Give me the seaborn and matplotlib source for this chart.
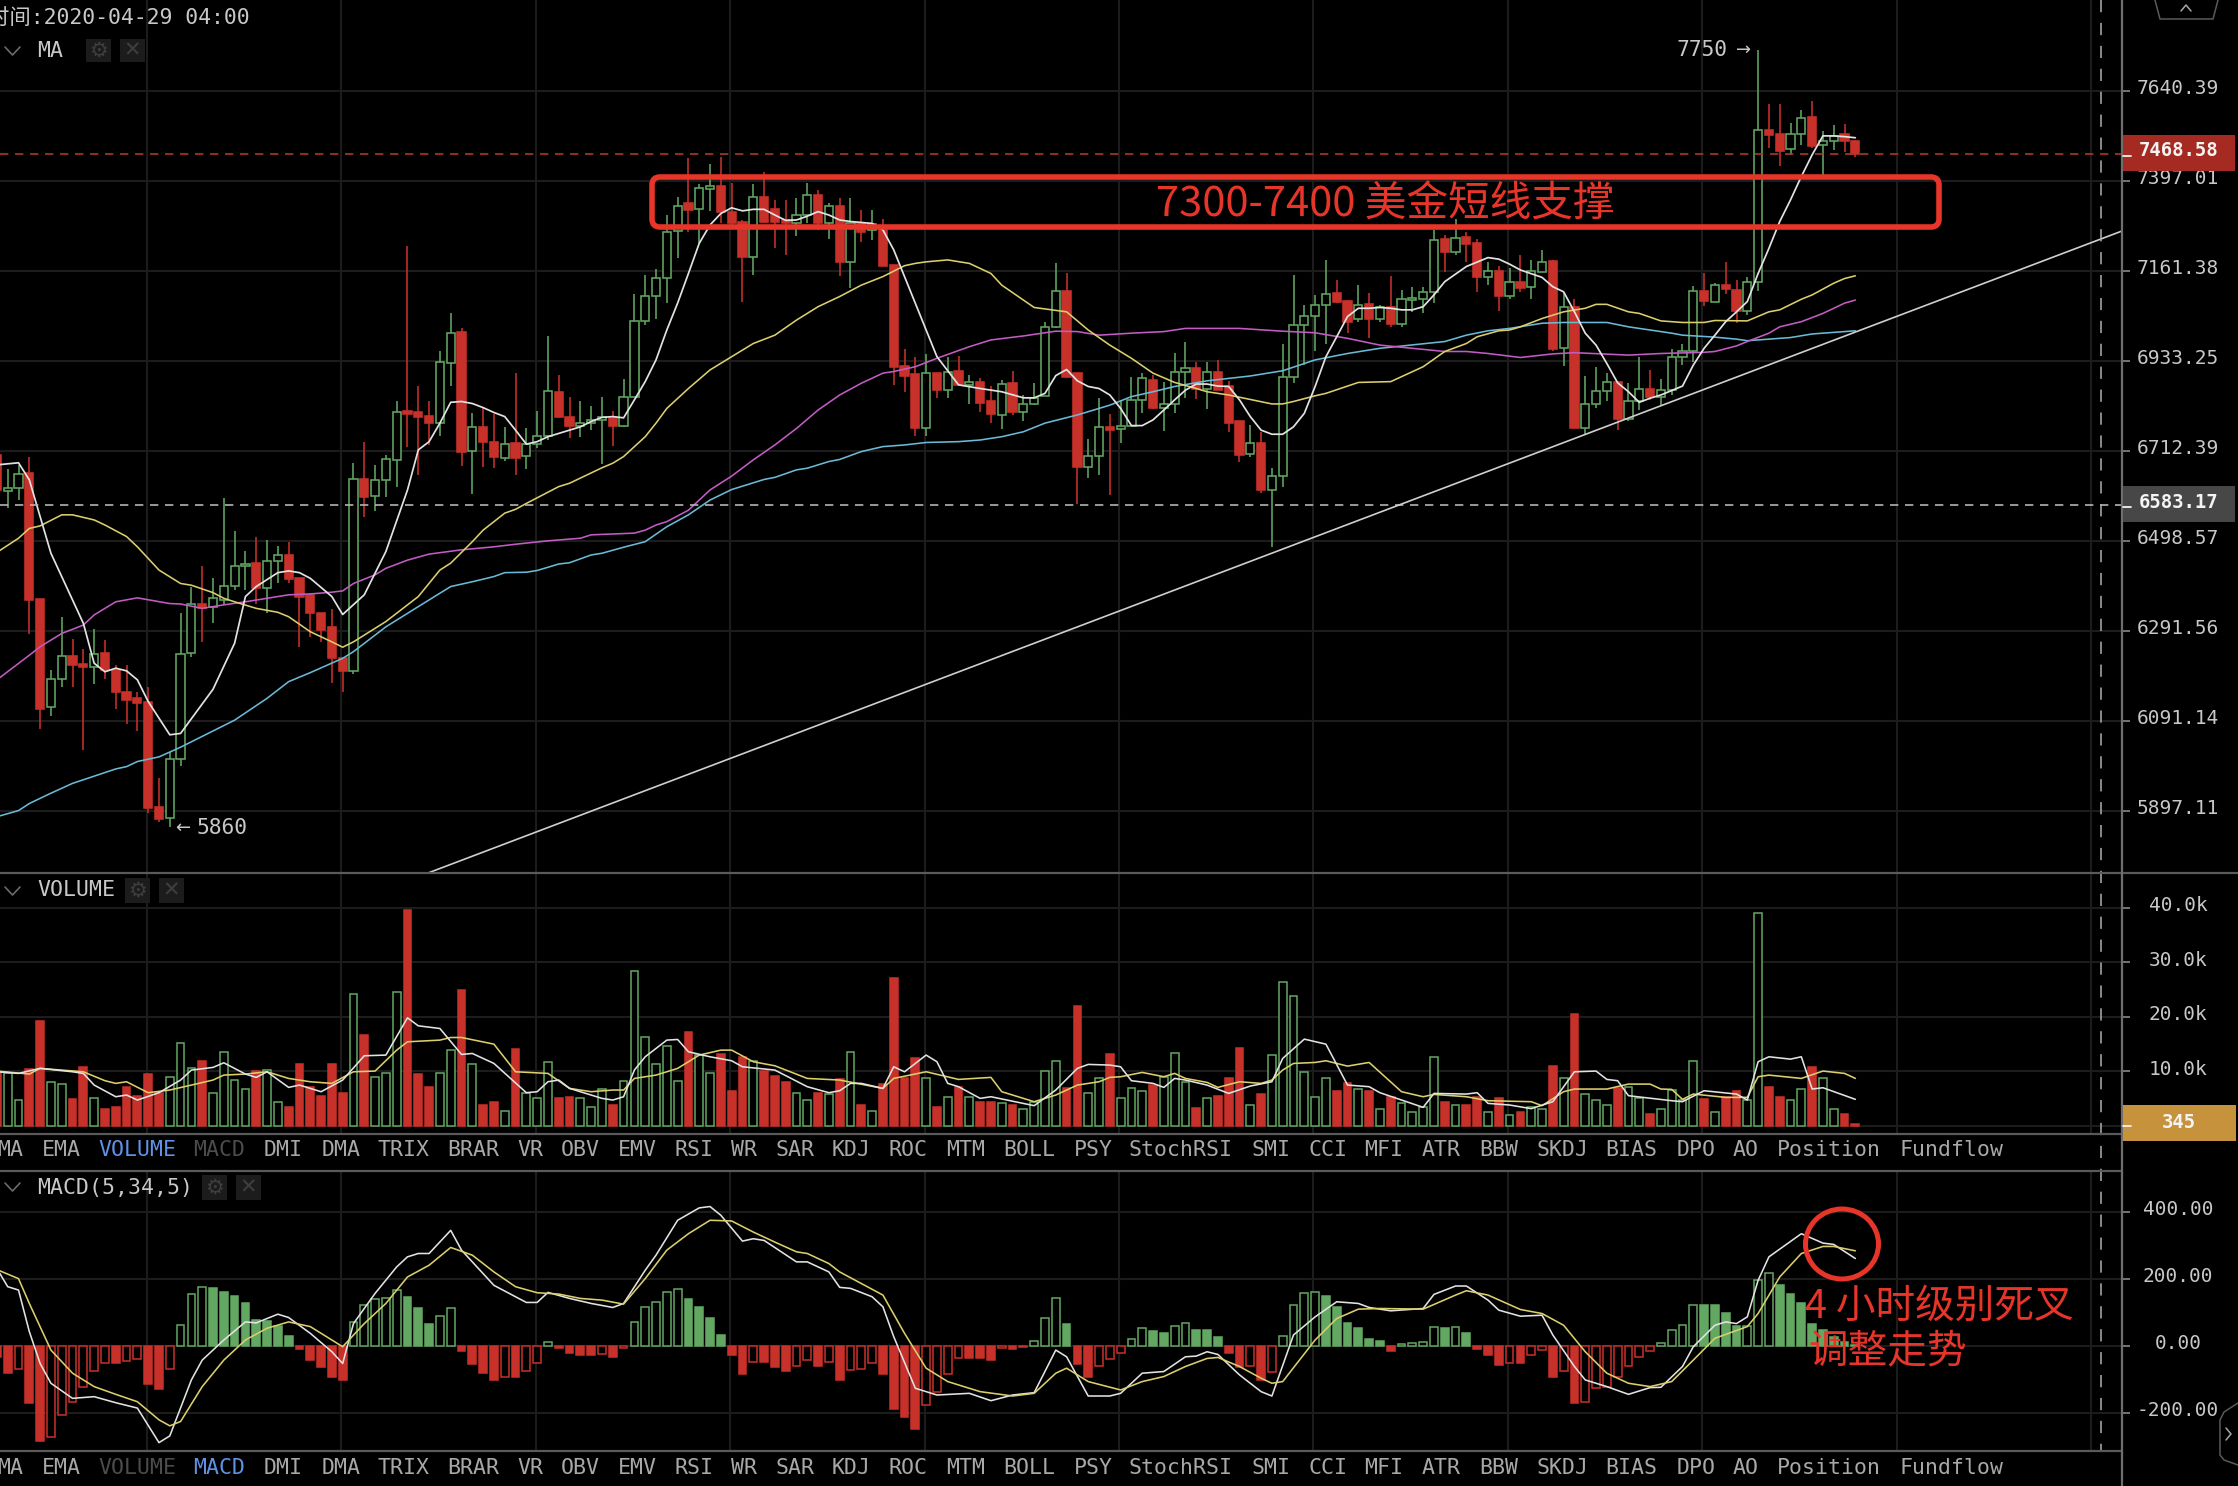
import math
import numpy as np
import seaborn as sns
import matplotlib
matplotlib.use('Agg')
import matplotlib.pyplot as plt
from matplotlib.patches import FancyBboxPatch, Ellipse, Rectangle

opens=[6703,6617,6623,6659,6364,6121,6183,6236,6217,6211,6241,6205,6156,6141,6132,5906,5882,6009,6243,6354,6347,6362,6395,6441,6447,6390,6453,6467,6412,6374,6333,6301,6230,
6202,6644,6605,6643,6691,6810,6806,6797,6781,6929,7007,6712,6770,6735,6695,6731,6700,6729,6749,6857,6796,6773,6780,6788,6792,6773,6845,7034,7097,7144,7264,7338,7322,
7377,7385,7316,7290,7198,7355,7322,7294,7287,7307,7360,7287,7332,7185,7285,7268,7268,7177,6921,6900,6769,6903,6861,6908,6874,6882,6833,6800,6878,6808,6827,6847,7019,
7111,6904,6673,6700,6771,6765,6773,6837,6886,6816,6827,6907,6917,6865,6907,6870,6784,6705,6731,6620,6652,6894,7024,7046,7074,7104,7085,7038,7076,7038,7070,7026,7087,
7089,7107,7243,7211,7250,7233,7147,7162,7096,7134,7119,7160,7187,6965,7070,6769,6827,6860,6880,6790,6833,6863,6843,6861,6944,6957,7111,7083,7125,7113,7060,7134,7534,
7523,7483,7522,7568,7493,7504,7523,7505]
highs=[6715,6668,6679,6699,6364,6205,6323,6273,6250,6295,6271,6215,6214,6154,6167,5967,6024,6332,6393,6440,6412,6601,6522,6476,6509,6502,6488,6497,6412,6379,6333,6341,6230,
6683,6733,6679,6703,6833,7226,6870,6833,6957,7053,7015,6804,6816,6802,6770,6903,6767,6810,6996,6898,6843,6833,6823,6843,6810,6889,7102,7151,7166,7307,7354,7458,7388,
7442,7462,7391,7294,7389,7422,7347,7347,7351,7391,7373,7340,7351,7351,7320,7320,7296,7177,6962,6944,6951,6904,6944,6946,6898,6890,6870,6886,6909,6849,6878,7032,7181,
7155,6904,6741,6841,6802,6837,6894,6903,6898,6882,6952,6982,6932,6932,6936,6884,6784,6775,6759,6671,6977,7151,7074,7100,7191,7138,7087,7125,7104,7074,7149,7113,7121,
7119,7268,7255,7296,7263,7243,7185,7173,7168,7203,7190,7216,7190,7104,7089,6896,6919,6903,6884,6879,6942,6911,6888,6962,6977,7123,7157,7131,7185,7137,7147,7754,7604,
7604,7552,7588,7613,7532,7548,7550,7507]
lows=[6607,6575,6595,6284,6073,6102,6167,6165,6028,6173,6183,6117,6084,6070,5892,5873,5863,5993,6234,6267,6310,6351,6384,6384,6354,6333,6402,6400,6256,6279,6267,6174,6154,
6196,6556,6570,6603,6625,6723,6655,6727,6749,6872,6676,6609,6673,6671,6689,6655,6668,6719,6739,6794,6745,6747,6763,6681,6724,6770,6843,7024,7040,7079,7194,7263,7233,
7318,7285,7275,7083,7151,7285,7220,7203,7252,7285,7268,7243,7149,7117,7237,7242,7173,6874,6857,6749,6749,6841,6841,6871,6828,6808,6781,6765,6800,6784,6824,6847,7015,
6890,6586,6647,6655,6607,6731,6773,6804,6814,6762,6804,6841,6838,6814,6861,6759,6687,6699,6611,6484,6625,6879,6923,6957,6977,7079,7003,7032,6990,7032,7019,7019,7057,
7053,7079,7160,7203,7185,7108,7125,7060,7089,7108,7089,7160,6959,6921,6769,6754,6816,6833,6763,6784,6812,6837,6823,6849,6923,6932,7072,7083,7102,7028,7049,7111,7484,
7437,7467,7493,7484,7413,7480,7475,7462]
closes=[6619,6623,6657,6361,6117,6183,6236,6214,6210,6240,6205,6154,6137,6130,5904,5881,6009,6240,6353,6343,6366,6395,6441,6446,6389,6453,6466,6410,6370,6332,6294,6230,6202,
6644,6603,6643,6692,6806,6802,6794,6781,6930,7003,6711,6770,6733,6699,6729,6695,6729,6749,6859,6794,6773,6780,6788,6796,6774,6845,7034,7097,7144,7263,7331,7320,7379,
7384,7316,7287,7198,7355,7290,7290,7285,7307,7360,7285,7331,7184,7287,7263,7283,7174,6919,6896,6769,6903,6861,6907,6874,6882,6830,6802,6876,6808,6827,6842,7019,7111,
6894,6673,6700,6770,6763,6773,6837,6890,6816,6828,6907,6917,6865,6907,6861,6781,6703,6731,6620,6652,6894,7024,7046,7074,7102,7083,7030,7074,7038,7070,7026,7089,7093,
7107,7242,7211,7246,7230,7147,7161,7096,7134,7117,7162,7185,6962,7070,6769,6827,6860,6880,6790,6833,6863,6843,6861,6944,6957,7111,7085,7125,7114,7060,7134,7534,7520,
7478,7523,7567,7491,7504,7518,7505,7469]

ma_white_x=[0,2,3,5,8,9,10,11,12,13,14,16,17,20,22,23,24,26,27,28,29,31,32,34,36,38,39,40,41,42,43,44,45,46,47,48,49,50,51,52,53,54,55,56,57,58,59,60,61,62,63,64,65,66,67,68,69,70,71,72,73,74,75,76,77,78,79,81,82,83,85,87,89,91,93,95,96,97,98,99,100,101,102,103,104,105,106,107,108,109,110,111,112,113,114,115,116,117,118,119,120,121,122,123,124,125,126,127,128,129,130,131,132,133,134,136,138,139,140,141,143,144,145,146,147,148,149,150,151,152,153,154,156,157,158,159,160,161,162,163,164,165,166,167,168,169,170,171,172]
ma_white_y=[6679,6684,6643,6470,6309,6219,6200,6208,6202,6182,6134,6061,6064,6161,6264,6370,6393,6425,6429,6425,6412,6370,6329,6374,6474,6619,6715,6735,6780,6831,6833,6828,6818,6806,6796,6763,6729,6735,6747,6755,6763,6771,6784,6794,6796,6793,6837,6882,6936,7011,7079,7155,7233,7281,7311,7326,7318,7322,7322,7307,7293,7294,7304,7316,7307,7294,7290,7285,7268,7216,7079,6944,6874,6865,6857,6842,6842,6853,6897,6912,6884,6870,6865,6849,6816,6774,6774,6788,6812,6837,6861,6876,6876,6871,6870,6837,6796,6763,6753,6753,6771,6804,6870,6944,6994,7045,7066,7066,7068,7066,7062,7062,7070,7100,7134,7173,7196,7192,7179,7164,7145,7121,7108,7057,7003,6973,6927,6879,6857,6831,6841,6849,6871,6923,6965,6998,7032,7057,7083,7155,7220,7290,7347,7409,7467,7518,7518,7516,7513]
ma_yellow_x=[0,2,3,4,6,7,9,10,12,13,15,17,18,20,21,22,24,26,27,29,31,32,33,36,39,41,42,44,45,47,48,49,52,53,56,57,58,60,61,62,64,66,68,70,72,74,76,78,80,82,84,85,86,88,90,92,93,96,99,101,103,105,107,109,111,112,114,116,118,119,120,122,123,126,129,132,134,136,137,139,140,141,143,145,147,148,149,151,152,154,156,158,159,162,164,165,167,168,170,171,172]
ma_yellow_y=[6472,6505,6528,6534,6560,6560,6548,6536,6509,6485,6431,6400,6396,6379,6366,6358,6343,6334,6324,6290,6267,6255,6267,6313,6370,6431,6447,6497,6524,6564,6573,6587,6627,6635,6672,6683,6699,6747,6780,6816,6865,6911,6944,6977,6998,7036,7070,7096,7125,7147,7175,7181,7185,7190,7181,7155,7125,7068,7057,7011,6973,6940,6903,6880,6865,6857,6849,6838,6827,6827,6833,6847,6853,6880,6882,6919,6957,6977,6994,7009,7011,7019,7040,7057,7066,7076,7076,7057,7053,7034,7030,7030,7035,7034,7057,7062,7089,7100,7130,7142,7149]
ma_magenta_x=[0,3,4,6,8,9,11,13,16,17,19,21,23,25,27,29,31,32,33,35,36,38,40,43,46,48,51,54,55,59,60,61,62,64,66,68,70,72,74,76,78,80,82,83,85,87,90,92,95,98,100,102,105,108,110,115,119,122,125,128,134,136,138,141,144,146,151,154,158,159,161,162,164,165,167,169,171,172]
ma_magenta_y=[6182,6237,6256,6286,6305,6328,6358,6367,6354,6353,6343,6351,6358,6366,6374,6376,6380,6383,6400,6420,6435,6454,6468,6478,6485,6491,6499,6505,6513,6517,6524,6536,6544,6571,6619,6652,6691,6727,6767,6812,6849,6878,6903,6907,6919,6940,6969,6986,6996,7008,7007,6998,7003,7007,7015,7015,7008,7004,6990,6973,6957,6957,6952,6942,6951,6954,6948,6952,6955,6957,6971,6982,7003,7019,7032,7053,7079,7087]
ma_blue_x=[0,2,3,5,7,11,12,13,15,17,22,25,27,29,32,33,36,39,42,44,46,47,49,50,52,53,55,56,58,60,62,64,66,68,71,72,74,75,77,78,80,82,84,86,89,91,93,95,97,100,103,105,107,109,112,114,116,119,122,125,128,134,136,138,140,143,145,149,151,153,155,156,159,161,162,164,166,168,170,172]
ma_blue_y=[5885,5898,5913,5935,5956,5987,5992,6003,6013,6034,6093,6141,6178,6198,6230,6245,6301,6347,6393,6404,6416,6425,6426,6430,6445,6448,6466,6470,6484,6497,6532,6560,6595,6620,6644,6649,6667,6671,6687,6692,6711,6723,6727,6733,6735,6739,6747,6759,6780,6800,6824,6845,6857,6870,6884,6890,6896,6909,6936,6952,6965,6982,6998,7009,7015,7028,7030,7030,7019,7011,7003,6998,6993,6988,6984,6988,6992,7001,7005,7009]

volumes=[9650,9650,4760,10380,19300,8000,7690,4890,10750,5070,3180,3540,7080,5500,9470,6110,9040,15270,10690,11970,6110,13620,8430,6720,10080,10260,4460,3420,11360,7210,5500,11360,6110,24180,16670,9040,9770,24550,39700,9470,7080,9770,13920,24920,11360,3790,4460,2810,14050,6110,5070,11660,5070,5370,5070,3420,6720,3790,8310,28460,16240,11360,14660,8310,17280,13010,9770,13130,6470,12700,11970,10140,9160,8120,6110,4760,6110,5860,8550,13620,3850,2810,7690,27240,8730,12400,8730,3540,5370,7080,5370,4460,4460,4270,3850,3050,4340,10080,11970,6900,21990,6110,8730,13130,5070,
7020,6410,7510,9040,13310,8000,3240,5070,5500,8730,14350,3790,5860,13010,26440,23880,9950,5370,8730,6470,7820,6780,6470,3110,5370,4150,2500,3420,12700,4460,3790,3790,5370,2500,5070,2020,2630,3540,3180,11050,8730,20640,5860,4760,3790,6900,7080,5070,2200,3110,6600,4760,11970,4890,2500,5370,6470,4760,39080,7080,5370,4760,6780,10750,8730,3110,2140,345]
vma_white_x=[0,2,4,7,8,9,11,12,13,15,17,18,20,21,23,24,25,27,28,30,32,34,36,38,39,41,43,44,46,49,50,51,52,53,56,57,58,59,60,62,63,64,66,68,69,72,75,77,78,79,80,82,83,84,86,87,88,89,91,92,96,98,100,101,103,104,105,107,108,109,110,112,114,116,118,119,121,123,125,127,128,132,133,136,137,138,140,142,144,146,148,149,150,151,155,156,158,161,162,163,164,166,167,168,169,172]
vma_white_y=[9950,9650,10570,9950,9650,7510,5370,5680,4760,6110,8430,10260,10750,11600,9530,8920,9950,7080,7510,6290,8430,12890,13010,19850,18380,17890,13130,13310,11480,6110,6290,8120,8430,6900,5070,4760,5370,10260,12700,15760,15880,13620,12700,11970,10870,10260,7210,6110,6470,7820,7820,6900,10870,9950,13010,11790,7820,7210,5070,5370,3730,6600,10570,11300,11180,10870,8310,7820,7080,8730,8430,7510,5980,7330,8120,12400,15940,15020,7510,7210,6110,3420,5980,5860,6110,4150,3850,3180,4460,9950,10080,8550,8310,5560,4640,4460,6470,5860,4760,11790,12700,12270,12700,6780,7020,4890]
vma_yellow_x=[0,3,4,8,10,11,12,14,16,18,20,21,23,25,27,29,31,33,35,37,38,41,42,43,46,48,51,53,55,57,58,59,61,63,65,67,68,70,72,75,78,82,83,86,89,92,93,96,98,100,102,103,104,106,108,109,110,112,113,115,117,118,119,120,122,123,125,127,130,132,133,136,138,142,143,145,146,149,151,153,154,155,156,157,160,162,163,164,167,169,171,172]
vma_yellow_y=[10080,9530,10570,9950,8310,7820,8120,6110,6600,7510,8430,9340,9530,9950,8730,8120,7820,9950,10080,13920,15450,15760,16240,16240,15020,9950,9650,6900,6290,6600,6600,8730,9340,10570,13010,13920,13920,11790,11050,8730,8430,6900,8730,9950,8550,8920,6290,4460,5680,7510,8120,8920,9040,9830,9040,9650,8730,8000,7080,8120,7820,8430,10260,11480,11660,11970,10990,11660,6290,5370,5800,5370,4640,4460,3730,6290,6780,6780,7690,7690,6780,6720,4890,5860,5250,5250,9040,9340,8730,10080,9650,8730]

hist=[-32,-79,-68,-171,-283,-272,-205,-166,-123,-73,-52,-52,-45,-39,-113,-128,-68,62,154,176,172,160,150,127,79,74,60,31,-10,-42,-63,-91,-101,72,122,139,144,167,145,112,67,90,112,-15,-54,-79,-101,-91,-91,-73,-52,11,-5,-22,-27,-27,-24,-32,-7,72,117,132,160,170,139,117,85,33,-27,-84,-47,-49,-63,-73,-61,-42,-61,-47,-101,-71,-68,-52,-84,-187,-213,-246,-176,-136,-84,-35,-37,-37,-42,-7,-10,-4,15,84,144,67,-54,-91,-61,-39,-20,
20,53,45,38,60,68,48,48,26,-20,-63,-61,-101,-78,31,122,157,160,150,117,69,53,20,16,-16,6,10,11,58,53,58,38,-10,-27,-58,-52,-52,-27,-12,-91,-73,-171,-166,-126,-121,-91,-61,-32,-14,10,48,62,122,122,122,100,59,60,198,218,181,154,127,67,48,28,13,3]
dif_x=[0,1,2,3,4,5,7,9,11,13,15,16,18,19,21,23,24,26,27,29,31,32,33,35,37,38,39,40,42,43,46,49,50,51,53,55,57,58,60,61,63,65,66,67,69,70,71,74,75,77,78,79,81,82,83,85,87,90,92,94,96,98,99,101,103,104,106,108,110,111,112,113,115,117,118,120,122,124,126,127,129,132,133,135,136,138,139,141,143,144,146,147,149,151,153,154,156,157,159,160,161,162,163,164,167,169,170,172]
dif_y=[231,177,167,43,-52,-111,-156,-151,-169,-185,-288,-268,-101,-42,18,72,69,95,85,38,-17,-52,67,157,236,266,276,276,345,286,181,130,130,160,142,127,115,127,226,271,375,412,416,390,313,320,315,251,251,221,175,172,147,117,28,-126,-146,-141,-163,-146,-139,-12,-32,-149,-149,-141,-81,-76,-32,-30,-17,-25,-86,-136,-149,33,87,132,127,115,105,112,154,179,179,137,107,89,92,33,-61,-101,-121,-144,-124,-123,-61,-2,62,72,67,87,196,266,335,307,303,261]
dea_x=[0,2,3,5,7,9,11,13,15,16,17,19,21,23,25,27,29,31,32,34,36,38,40,42,44,46,48,50,52,54,56,58,60,62,64,66,68,70,72,74,75,77,78,82,84,86,88,91,94,96,98,99,101,104,106,108,110,112,113,115,117,118,119,122,124,126,128,132,135,136,138,141,143,145,147,149,151,153,155,157,159,162,163,165,167,169,170,172]
dea_y=[228,201,127,-12,-81,-121,-144,-166,-220,-238,-225,-121,-42,18,53,72,58,18,-2,67,127,206,241,294,271,221,177,159,155,142,137,125,201,286,335,375,373,340,310,281,276,246,221,152,38,-66,-106,-136,-149,-141,-81,-66,-106,-131,-106,-91,-61,-37,-34,-61,-96,-111,-106,18,82,110,112,110,152,165,152,109,97,62,-17,-81,-111,-121,-106,-42,23,58,97,206,276,297,297,284]

price_ticks=[7640.39,7397.01,7161.38,6933.25,6712.39,6498.57,6291.56,6091.14,5897.11]
volume_ticks=[40000,30000,20000,10000]
volume_labels=['40.0k','30.0k','20.0k','10.0k']
macd_ticks=[400,200,0,-200]
macd_labels=['400.00','200.00','0.00','-200.00']
tab_names=['MA','EMA','VOLUME','MACD','DMI','DMA','TRIX','BRAR','VR','OBV','EMV','RSI','WR','SAR','KDJ','ROC','MTM','BOLL','PSY','StochRSI','SMI','CCI','MFI','ATR','BBW','SKDJ','BIAS','DPO','AO','Position','Fundflow']
tab_px=[10,61,137,219,283,341,404,473,530,580,637,694,744,795,851,908,966,1029,1093,1181,1271,1328,1384,1441,1499,1562,1631,1696,1746,1829,1952]
last_price=7468.58
mark_price=6583.17
last_volume=345

W,H_=2238,1486
RED='#c8302a'; GREEN='#62a862'; ANN='#e8352a'; GRID='#1c1c1c'; TXT='#c8c8c8'; SEP='#5a5a5a'
sns.set_theme(style='dark',rc={'figure.facecolor':'black','axes.facecolor':'black','savefig.facecolor':'black'})
MONO=['DejaVu Sans Mono','Noto Sans CJK SC']
CJK=['Noto Sans CJK SC','DejaVu Sans']
plt.rcParams['font.family']=MONO

fig=plt.figure(figsize=(W/100,H_/100),dpi=100)
def mkax(top,bottom,right=2122):
    return fig.add_axes([0,1-bottom/H_,right/W,(bottom-top)/H_])
idx=np.arange(len(opens))
xl=((0+3.1)/10.805,(2122+3.1)/10.805)
xgrid=[13.85+18*k for k in range(11)]
ax1=mkax(0,873); ax2=mkax(873,1134); ax3=mkax(1171,1451)
log_r=math.log(7640.39/5897.11)/8/90
ax1.set_yscale('log')
ax1.set_ylim(7640.39*math.exp(-(873-91)*log_r),7640.39*math.exp(91*log_r))
ax2.set_ylim(-1468,46422)
ax3.set_ylim(-313,522)
for ax in (ax1,ax2,ax3):
    ax.set_xlim(*xl)
    ax.set_facecolor('black')
    ax.set_xticks(xgrid); ax.set_xticklabels([])
    ax.minorticks_off()
    for s in ax.spines.values(): s.set_visible(False)
    ax.grid(True,color=GRID,lw=1.5,zorder=0)
    ax.set_axisbelow(True)
    ax.yaxis.tick_right()
    ax.tick_params(axis='x',length=0,bottom=False)
    ax.tick_params(axis='y',which='major',right=True,left=False,length=5.5,width=1.2,color='#888888',labelright=False,labelleft=False)
    ax.tick_params(axis='y',which='minor',length=0,left=False,right=False,labelright=False,labelleft=False)
    ax.set_xlabel(''); ax.set_ylabel('')
ax1.set_yticks(price_ticks); ax2.set_yticks(volume_ticks+[0]); ax3.set_yticks(macd_ticks)
ax1.minorticks_off()

def ylabel(ax,val,txt):
    ax.annotate(txt,xy=(1,val),xycoords=('axes fraction','data'),xytext=(40.5,1.6),textcoords='offset points',ha='center',va='center',color=TXT,fontsize=14,annotation_clip=False,zorder=30)
for v in price_ticks: ylabel(ax1,v,'%.2f'%v)
for v,t in zip(volume_ticks,volume_labels): ylabel(ax2,v,t)
for v,t in zip(macd_ticks,macd_labels): ylabel(ax3,v,t)

# candles
up=np.array(closes)>=np.array(opens)
cols=[GREEN if u else RED for u in up]
ax1.vlines(idx,lows,highs,colors=cols,lw=1.15,zorder=3)
bw=0.76
for i in idx:
    t,b=max(opens[i],closes[i]),min(opens[i],closes[i])
    ax1.bar(i,t-b,bottom=b,width=bw,facecolor='black' if up[i] else RED,edgecolor=cols[i],linewidth=1.15,zorder=4)

def ln(ax,x,y,c,lw=1.15):
    sns.lineplot(x=x,y=y,ax=ax,color=c,lw=lw,estimator=None,sort=False,legend=False,zorder=6)
ln(ax1,ma_blue_x,ma_blue_y,'#6ab9d6'); ln(ax1,ma_magenta_x,ma_magenta_y,'#c25cc4')
ln(ax1,ma_yellow_x,ma_yellow_y,'#dbcf6c'); ln(ax1,ma_white_x,ma_white_y,'#e2e2e2',1.25)

# volume
ax2.bar(idx,volumes,width=0.72,color=['black' if u else RED for u in up],edgecolor=cols,linewidth=1.1,zorder=3)
ln(ax2,vma_yellow_x,vma_yellow_y,'#dbcf6c'); ln(ax2,vma_white_x,vma_white_y,'#e2e2e2')

# macd
hc=[GREEN if v>=0 else RED for v in hist]
hf=[]
for i,v in enumerate(hist):
    rising = i>0 and v>hist[i-1]
    hf.append('black' if rising else hc[i])
ax3.bar(idx,hist,width=0.72,color=hf,edgecolor=hc,linewidth=1.1,zorder=3)
ln(ax3,dif_x,dif_y,'#e2e2e2'); ln(ax3,dea_x,dea_y,'#dbcf6c')

for ax,c,v in ((ax1,'#a8392e',last_price),(ax1,'#b4b4b4',mark_price)):
    ax.axhline(v,color=c,lw=1.2,ls=(0,(5,4)),zorder=7)

# overlay in pixel units for the interface chrome
ov=fig.add_axes([0,0,1,1],facecolor='none',zorder=20)
ov.set_xlim(0,W); ov.set_ylim(H_,0); ov.axis('off')
ov.plot([428,2122],[873,231],color='#cfcfcf',lw=1.2,zorder=5)
ov.plot([2101,2101],[0,1451],color='#b0b0b0',lw=1.1,ls=(0,(8,7)),zorder=5)
for y,x1 in ((873,W),(1134,2122),(1171,2122),(1451,2122)):
    ov.plot([0,x1],[y,y],color=SEP,lw=1.6,zorder=6)
ov.plot([2122,2122],[0,H_],color='#6e6e6e',lw=1.6,zorder=6)
def tag(y0,y1,x1,c,txt,yt,tc='#f4f4f4',w='bold'):
    ov.add_patch(Rectangle((2123,y0),x1-2123,y1-y0,facecolor=c,edgecolor='none',zorder=7))
    ov.text(2179,yt,txt,color=tc,fontsize=13.6,ha='center',va='center',fontweight=w,zorder=8)
    ov.plot([2123,2131],[(y0+y1)/2+3,(y0+y1)/2+3],color='#f2f2f2',lw=1.3,zorder=8)
tag(135,171,2235,'#a52b22','%.2f'%last_price,151)
tag(486,522,2235,'#474747','%.2f'%mark_price,503)
tag(1105,1141,2236,'#c6923c',str(last_volume),1122)
ov.text(-12,18,'时间:2020-04-29 04:00',color=TXT,fontsize=15.4,ha='left',va='center',family=MONO)
def chev(y):
    ov.plot([5,12.5,20],[y,y+8,y],color='#6a6a6a',lw=1.2)
def icons(x,y0,y1):
    for k,g in zip(x,('⚙','✕')):
        ov.add_patch(Rectangle((k,y0),24.5,y1-y0,facecolor='#1c1c1c',edgecolor='none'))
        ov.text(k+12,(y0+y1)/2,g,color='#3e3e3e',fontsize=15,ha='center',va='center',family='DejaVu Sans')
chev(47); ov.text(37,51,'MA',color=TXT,fontsize=15.5,ha='left',va='center'); icons((86,120),39,62)
chev(887); ov.text(37,890.5,'VOLUME',color=TXT,fontsize=15.5,ha='left',va='center'); icons((125,159),878,903)
chev(1183); ov.text(37,1188,'MACD(5,34,5)',color=TXT,fontsize=15.5,ha='left',va='center'); icons((202,236),1175,1200)
for nm,x in zip(tab_names,tab_px):
    c1='#5f92e6' if nm=='VOLUME' else ('#4c4c4c' if nm=='MACD' else '#a8a8a8')
    c2='#5f92e6' if nm=='MACD' else ('#4c4c4c' if nm=='VOLUME' else '#a8a8a8')
    ov.text(x,1150.5,nm,color=c1,fontsize=15.5,ha='center',va='center')
    ov.text(x,1468.5,nm,color=c2,fontsize=15.5,ha='center',va='center')
ov.text(197,827.5,'5860',color=TXT,fontsize=15.3,ha='left',va='center')
ov.text(183,828,'←',color=TXT,fontsize=13,ha='center',va='center',family='DejaVu Sans')
ov.text(1677,49.5,'7750',color=TXT,fontsize=15.3,ha='left',va='center')
ov.text(1744,50,'→',color=TXT,fontsize=13,ha='center',va='center',family='DejaVu Sans')
ov.plot([2155,2160,2213,2218],[0,19,19,0],color='#5a5a5a',lw=1.1)
ov.plot([2181,2186,2191],[11,5,11],color='#a8a8a8',lw=1.1)
ov.plot([2238,2224,2220,2220,2224,2238],[1403,1412,1420,1455,1460,1465],color='#5a5a5a',lw=1.1)
ov.plot([2226,2231,2226],[1428,1434,1440],color='#a8a8a8',lw=1.1)
ov.add_patch(FancyBboxPatch((652,177),1287,50,boxstyle='round,pad=0,rounding_size=8',fill=False,edgecolor=ANN,lw=4.0,zorder=12))
ov.text(1385,205,'7300-7400 美金短线支撑',color=ANN,fontsize=30,ha='center',va='center',family=CJK,zorder=12)
ov.add_patch(Ellipse((1842,1244),73,70,fill=False,edgecolor=ANN,lw=3.6,zorder=12))
ov.text(1805,1307,'4 小时级别死叉',color=ANN,fontsize=28.5,ha='left',va='center',family=CJK,zorder=12)
ov.text(1808,1351,'调整走势',color=ANN,fontsize=28.5,ha='left',va='center',family=CJK,zorder=12)
fig.savefig('out.png',dpi=100,facecolor='black')
